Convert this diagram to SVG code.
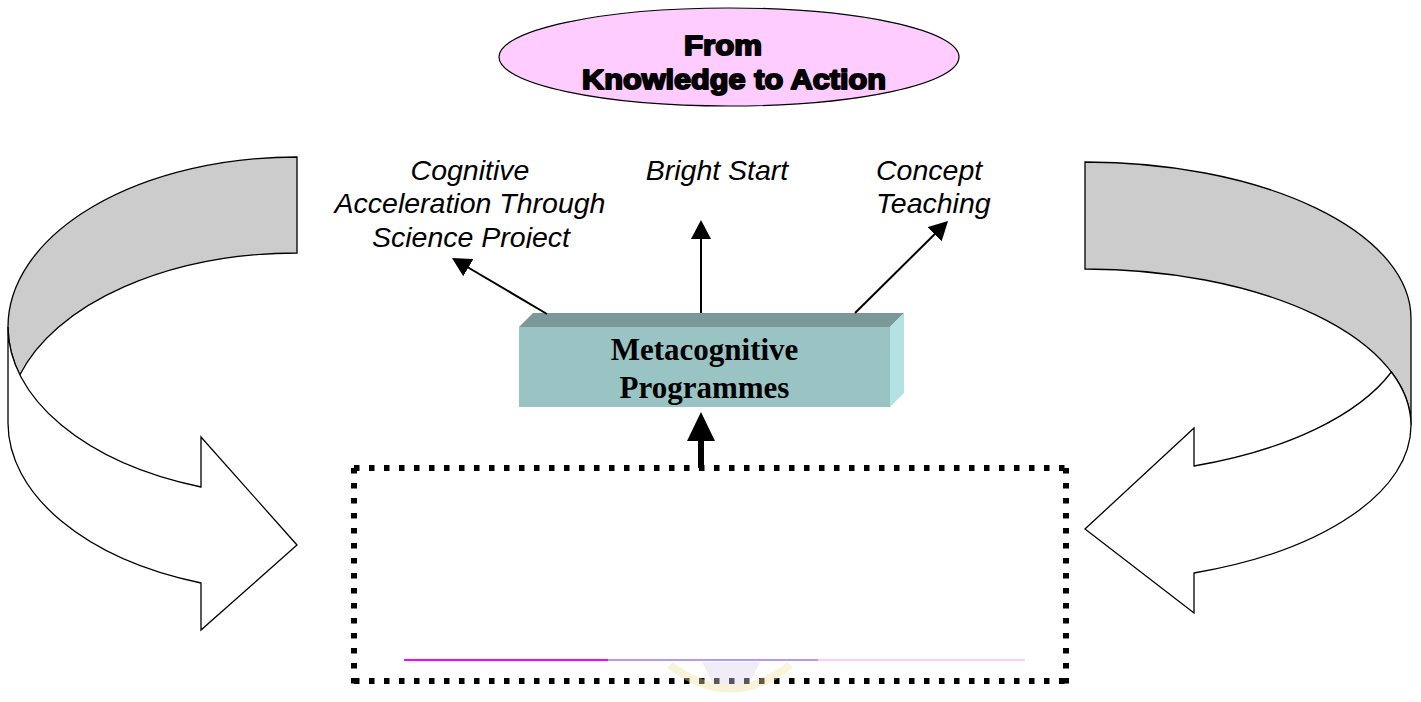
<svg xmlns="http://www.w3.org/2000/svg" width="1421" height="702" viewBox="0 0 1421 702">
<style>
.band{fill:#cccccc;stroke:#000;stroke-width:1.3;stroke-linejoin:miter}
.front{fill:#ffffff;stroke:#000;stroke-width:1.3;stroke-linejoin:miter}
.lbl{font-family:"Liberation Sans",Arial,sans-serif;font-style:italic;font-size:28.5px;fill:#000}
.title{font-family:"Liberation Sans",Arial,sans-serif;font-weight:bold;font-size:28px;fill:#000;stroke:#000;stroke-width:1.9;stroke-linejoin:round;text-anchor:middle}
.boxtxt{font-family:"Liberation Serif","Times New Roman",serif;font-weight:bold;font-size:31px;fill:#000;text-anchor:middle}
.conn{stroke:#000;stroke-width:2;fill:none}
.dots{stroke:#000;stroke-width:6;stroke-dasharray:5.5 9.5;fill:none}
</style>
<defs>
<marker id="ah" viewBox="0 0 19 20" refX="15" refY="10" markerWidth="19" markerHeight="20" markerUnits="userSpaceOnUse" orient="auto">
<path d="M0,0 L19,10 L0,20 Z" fill="#000"/>
</marker>
<clipPath id="clipSci"><rect x="300" y="215" width="320" height="33"/></clipPath>
</defs>

<g id="title">
<ellipse cx="729" cy="57" rx="230" ry="49" fill="#ffccff" stroke="#000" stroke-width="1.2"/>
<text class="title" x="723" y="55" textLength="78" lengthAdjust="spacingAndGlyphs">From</text>
<text class="title" x="734" y="89" textLength="304" lengthAdjust="spacingAndGlyphs">Knowledge to Action</text>
</g>

<g id="left-cycle-arrow">
<path class="band" d="M297,157 A289,170 0 0 0 8,327 A289,170 0 0 0 19.8,375 A289,170 0 0 1 297,253 Z"/>
<path class="front" d="M8,327 L8,423 A289,170 0 0 0 201,583 L201,630 L297,545 L201,437 L201,487 A289,170 0 0 1 8,327 Z"/>
</g>

<g id="right-cycle-arrow">
<path class="band" d="M1085,162 A326,156.5 0 0 1 1411,318.5 L1411,425.5 A326,156.5 0 0 0 1085,269 Z"/>
<path class="front" d="M1391.4,372 A326,156.5 0 0 1 1194,466 L1194,428 L1085,529 L1194,613 L1194,573 A326,156.5 0 0 0 1411,425.5 A326,156.5 0 0 0 1391.4,372 Z"/>
</g>

<g id="label-case">
<text class="lbl" text-anchor="middle" x="470" y="180">Cognitive</text>
<text class="lbl" text-anchor="middle" x="470" y="213">Acceleration Through</text>
<text class="lbl" text-anchor="middle" x="471" y="247" clip-path="url(#clipSci)">Science Project</text>
</g>

<g id="label-bright-start">
<text class="lbl" text-anchor="middle" x="717" y="180">Bright Start</text>
</g>

<g id="label-concept-teaching">
<text class="lbl" x="876" y="180">Concept</text>
<text class="lbl" x="876" y="213">Teaching</text>
</g>

<g id="metacognitive">
<rect x="519" y="327" width="371" height="80" fill="#9ac3c3"/>
<polygon points="519,327 533,313 904,313 890,327" fill="#7b9999"/>
<polygon points="890,327 904,313 904,393 890,407" fill="#b4e1e1"/>
<text class="boxtxt" x="704.5" y="360">Metacognitive</text>
<text class="boxtxt" x="704.5" y="398">Programmes</text>
</g>

<g id="dotted-box">
<line class="dots" x1="354" y1="468" x2="1068" y2="468"/>
<line class="dots" x1="354" y1="681" x2="1068" y2="681"/>
<line class="dots" x1="354" y1="468" x2="354" y2="684"/>
<line class="dots" x1="1066" y1="468" x2="1066" y2="684"/>
<g id="watermark" opacity="0.4">
<path d="M702,662 L760,662 L747,688 L715,688 Z" fill="#ddd4f0"/>
<path d="M670,665 Q731,712 790,665" stroke="#f0e2a0" stroke-width="8" fill="none"/>
</g>
<line x1="404" y1="660" x2="608" y2="660" stroke="#ff00ff" stroke-width="2"/>
<line x1="608" y1="660" x2="818" y2="660" stroke="#b399ff" stroke-width="2"/>
<line x1="818" y1="660" x2="1025" y2="660" stroke="#ffccff" stroke-width="2"/>
</g>

<g id="connectors">
<line class="conn" x1="547" y1="314" x2="455.4" y2="260" marker-end="url(#ah)"/>
<line class="conn" x1="701" y1="313" x2="701" y2="224" marker-end="url(#ah)"/>
<line class="conn" x1="855" y1="313" x2="945.2" y2="223.8" marker-end="url(#ah)"/>
<line x1="701" y1="468" x2="701" y2="438" stroke="#000" stroke-width="6"/>
<polygon points="701,412 715,441 687,441" fill="#000"/>
</g>
</svg>
